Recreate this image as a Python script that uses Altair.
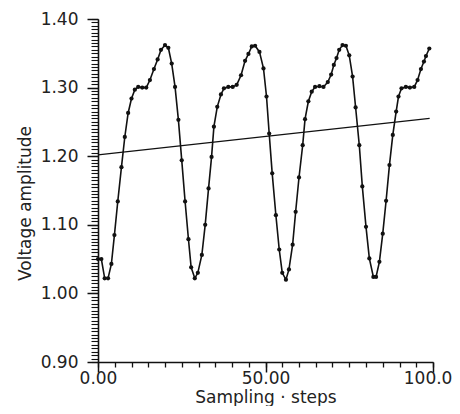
import altair as alt
import pandas as pd

steps = [0.0, 1.0, 2.0, 3.0, 4.0, 4.9, 5.9, 7.0, 8.0, 9.0, 10.0, 11.0, 12.0, 13.2, 14.4,
         15.5, 16.7, 17.8, 18.8, 20.0, 21.0, 22.0, 23.0, 24.0, 25.0, 26.0, 27.0, 27.8,
         28.9, 29.8, 31.0, 32.0, 33.0, 33.9, 34.6, 35.6, 36.7, 37.6, 38.9, 40.2, 41.4,
         42.7, 43.9, 44.9, 45.9, 46.9, 48.2, 49.4, 50.3, 51.1, 52.0, 53.1, 54.1, 55.0,
         56.1, 57.0, 58.1, 59.0, 60.0, 61.1, 61.8, 62.8, 63.8, 64.8, 66.1, 67.3, 68.6,
         69.6, 70.4, 71.2, 72.0, 73.0, 74.0, 75.0, 76.0, 76.9, 78.0, 78.9, 80.0, 81.0,
         82.2, 83.0, 84.0, 85.0, 86.0, 87.0, 88.0, 89.0, 89.7, 90.6, 91.9, 93.1, 94.4,
         95.4, 96.4, 97.3, 97.9, 98.9]
voltage = [1.050, 1.050, 1.022, 1.022, 1.043, 1.085, 1.134, 1.184, 1.228, 1.263, 1.284,
           1.297, 1.301, 1.300, 1.300, 1.311, 1.327, 1.341, 1.355, 1.362, 1.358, 1.335,
           1.301, 1.253, 1.194, 1.134, 1.079, 1.038, 1.022, 1.030, 1.056, 1.100, 1.153,
           1.199, 1.243, 1.272, 1.290, 1.299, 1.301, 1.301, 1.304, 1.318, 1.339, 1.349,
           1.360, 1.361, 1.352, 1.328, 1.287, 1.233, 1.175, 1.114, 1.064, 1.030, 1.020,
           1.035, 1.071, 1.119, 1.169, 1.216, 1.254, 1.280, 1.294, 1.301, 1.302, 1.301,
           1.308, 1.319, 1.333, 1.343, 1.355, 1.362, 1.361, 1.347, 1.316, 1.271, 1.216,
           1.156, 1.097, 1.051, 1.024, 1.024, 1.046, 1.087, 1.135, 1.187, 1.231, 1.265,
           1.287, 1.299, 1.301, 1.300, 1.301, 1.311, 1.327, 1.338, 1.346, 1.357]

# Trend line end points
trend_steps = [0.0, 99.0]
trend_voltage = [1.202, 1.255]

# Axis ticks
x_major = [0, 50, 100]
x_minor = [0, 5, 10, 15, 20, 25, 30, 35, 40, 45, 50, 55, 60, 65, 70, 75, 80, 85, 90, 95, 100]
y_major = [0.90, 1.00, 1.10, 1.20, 1.30, 1.40]
y_minor = [round(0.90 + 0.005 * i, 3) for i in range(101)]

df = pd.DataFrame({"step": steps, "voltage": voltage})
tdf = pd.DataFrame({"step": trend_steps, "voltage": trend_voltage})

FONT = "DejaVu Sans"
INK = "#111111"
TXT = "#222222"

xscale = alt.Scale(domain=[0, 100], nice=False, zero=False)
yscale = alt.Scale(domain=[0.9, 1.4], nice=False, zero=False)

x_axis_major = alt.Axis(orient="bottom", values=x_major, format=".2f", grid=False,
                        ticks=True, tickSize=10, tickWidth=1.5, tickColor=INK,
                        domainColor=INK, domainWidth=1.6,
                        labelPadding=-2, labelFont=FONT, labelFontSize=17, labelColor=TXT,
                        labelFlush=False, labelOverlap=False,
                        titleFont=FONT, titleFontSize=17, titleFontWeight="normal",
                        titleColor=TXT, titleY=40, titleBaseline="alphabetic")
x_axis_minor = alt.Axis(orient="bottom", values=x_minor, labels=False, grid=False,
                        domain=False, ticks=True,
                        tickSize=5, tickWidth=1.3, tickColor=INK)
y_axis_major = alt.Axis(orient="left", values=y_major, format=".2f", grid=False,
                        ticks=True, tickSize=11, tickWidth=1.5, tickColor=INK,
                        domainColor=INK, domainWidth=1.6,
                        labelPadding=9, labelFont=FONT, labelFontSize=17, labelColor=TXT,
                        labelFlush=False, labelOverlap=False,
                        titleFont=FONT, titleFontSize=17, titleFontWeight="normal",
                        titleColor=TXT, titleX=-73, titleY=184, titleBaseline="middle",
                        titleAlign="center", titleAngle=270)
y_axis_minor = alt.Axis(orient="left", values=y_minor, labels=False, grid=False,
                        domain=False, ticks=True,
                        tickSize=7, tickWidth=1.1, tickColor=INK)

trend = alt.Chart(tdf).mark_line(color=INK, strokeWidth=1.2).encode(
    x=alt.X("step:Q", scale=xscale, axis=x_axis_minor, title=None),
    y=alt.Y("voltage:Q", scale=yscale, axis=y_axis_minor, title=None),
)

series = alt.Chart(df).mark_line(
    color=INK, strokeWidth=1.6,
    point=alt.OverlayMarkDef(filled=True, size=18, color=INK),
).encode(
    x=alt.X("step:Q", scale=xscale, axis=x_axis_major, title="Sampling · steps"),
    y=alt.Y("voltage:Q", scale=yscale, axis=y_axis_major, title="Voltage  amplitude"),
)

chart = alt.layer(trend, series).resolve_axis(
    x="independent", y="independent"
).properties(
    width=335, height=343, autosize="none",
    padding={"left": 90, "top": 11, "right": 19, "bottom": 44},
).configure_view(strokeWidth=0)

chart.save("out.html", embed_options={"renderer": "svg", "actions": False})
